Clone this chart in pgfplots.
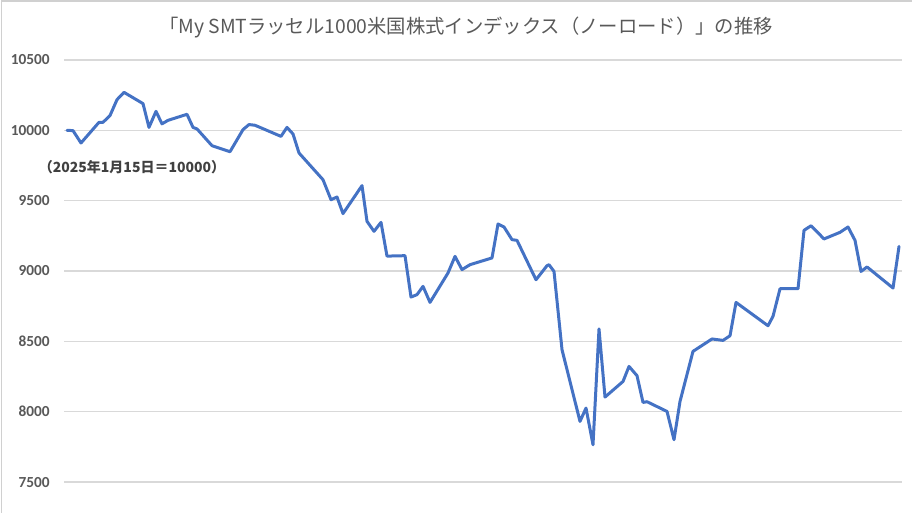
\documentclass[border=0pt]{standalone}
\usepackage{pgfplots}
\pgfplotsset{compat=1.18}
\usepackage{fontspec}
\setmainfont{Carlito}
\newfontfamily\jp{Noto Sans CJK JP}
\definecolor{linecol}{HTML}{4472C4}
\definecolor{gridgray}{HTML}{D9D9D9}
\definecolor{labelgray}{HTML}{595959}
\definecolor{framegray}{HTML}{D0D0D0}
\definecolor{notecol}{HTML}{404040}
\begin{document}
\begin{tikzpicture}[x=1pt,y=1pt]
\begin{axis}[
  at={(48pt,0pt)}, anchor=south west,
  scale only axis, width=628.5pt, height=339.75pt,
  xmin=-3, xmax=835, ymin=7280, ymax=10500,
  ytick={7500,8000,8500,9000,9500,10000,10500},
  scaled y ticks=false,
  yticklabel={\pgfmathprintnumber[fixed,precision=0,1000 sep={}]{\tick}},
  xtick=\empty,
  ymajorgrids, grid style={color=gridgray, line width=1pt},
  axis line style={draw=none},
  major tick length=0pt,
  yticklabel style={font=\bfseries\fontsize{11.5}{12}\selectfont, text=labelgray, anchor=east, inner sep=0pt, xshift=-10.5pt},
  /pgf/number format/assume math mode=true,
  /pgf/number format/1000 sep={},
  clip=false]
\addplot[color=linecol, line width=2.25pt, line join=round, line cap=round, mark=none] table {
x y
0 10000
6 9998
14 9910
32 10057
36 10057
43 10105
50 10218
57 10270
76 10190
82 10021
89 10135
95 10046
101 10071
120 10114
126 10021
130 10010
145 9891
163 9848
176 10005
182 10041
188 10036
214 9957
220 10021
226 9974
232 9839
256 9649
264 9507
270 9526
276 9408
295 9607
300 9353
307 9282
314 9346
320 9106
338 9109
344 8815
350 8832
356 8891
363 8777
381 8986
388 9104
395 9010
403 9045
425 9093
431 9334
437 9313
445 9223
450 9218
469 8938
480 9038
482 9045
487 8997
495 8441
513 7931
519 8026
526 7765
532 8588
538 8104
556 8215
562 8322
570 8256
576 8066
580 8071
600 8002
607 7801
613 8073
626 8429
645 8517
656 8507
663 8540
669 8777
701 8611
706 8678
713 8874
731 8874
737 9289
744 9322
757 9228
773 9275
781 9313
788 9218
794 8997
800 9029
826 8879
832 9175
};
\end{axis}
\draw[color=framegray, line width=1.2pt] (1pt,0pt) -- (1pt,384pt) -- (684pt,384pt);
\node[font=\jp\fontsize{14.5}{16}\selectfont, text=labelgray] at (349.5pt,364.5pt) {「My SMTラッセル1000米国株式インデックス（ノーロード）」の推移};
\node[font=\jp\bfseries\fontsize{10.5}{12}\selectfont, text=notecol] at (99pt,259.5pt) {（2025年1月15日＝10000）};
\pgfresetboundingbox
\path[use as bounding box] (0pt,0pt) rectangle (684pt,384.75pt);
\end{tikzpicture}
\end{document}
